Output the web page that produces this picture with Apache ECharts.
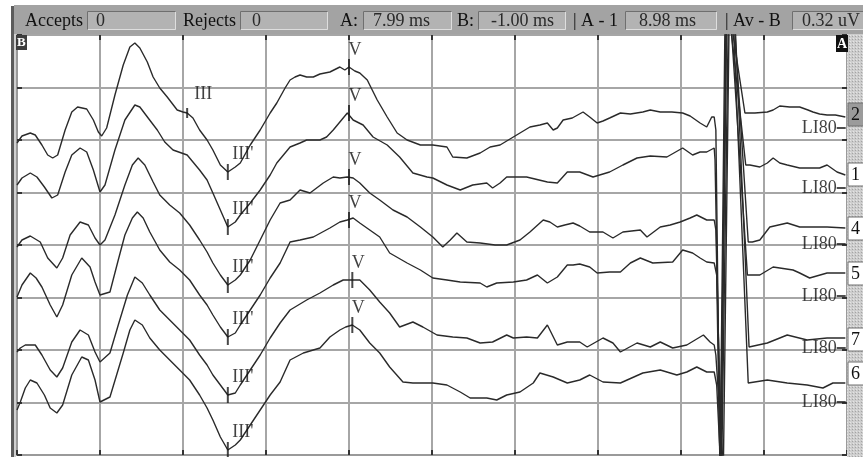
<!DOCTYPE html>
<html>
<head>
<meta charset="utf-8">
<script src="https://cdn.jsdelivr.net/npm/echarts/dist/echarts.min.js"></script>
<style>
  html, body { margin: 0; padding: 0; background: #ffffff; }
  #chart { width: 863px; height: 457px; }
</style>
</head>
<body>
<div id="chart"></div>
<script>
// Averaged evoked-response sweeps: time in ms, amplitude in uV (stacked display level)
const trace1 = [[-1.00,3.12],[-0.94,3.19],[-0.84,3.22],[-0.78,3.20],[-0.70,3.10],[-0.63,3.00],[-0.57,2.97],[-0.51,3.00],[-0.42,3.25],[-0.34,3.43],[-0.27,3.48],[-0.16,3.46],[-0.08,3.35],[-0.02,3.23],[0.02,3.19],[0.08,3.27],[0.18,3.60],[0.28,3.90],[0.36,4.08],[0.42,4.12],[0.48,4.07],[0.57,3.93],[0.64,3.78],[0.72,3.67],[0.81,3.58],[0.93,3.45],[1.00,3.43],[1.05,3.42],[1.12,3.37],[1.20,3.25],[1.29,3.15],[1.36,3.05],[1.45,2.90],[1.54,2.83],[1.63,2.88],[1.69,2.92],[1.81,3.10],[1.93,3.25],[2.05,3.42],[2.13,3.52],[2.23,3.67],[2.29,3.75],[2.35,3.78],[2.41,3.80],[2.49,3.78],[2.57,3.78],[2.65,3.81],[2.77,3.83],[2.89,3.88],[2.95,3.85],[3.00,3.88],[3.07,3.84],[3.13,3.82],[3.22,3.75],[3.28,3.65],[3.34,3.55],[3.46,3.38],[3.58,3.22],[3.70,3.15],[3.86,3.10],[4.01,3.10],[4.18,3.08],[4.25,2.98],[4.42,2.97],[4.58,3.02],[4.70,3.08],[4.82,3.10],[4.98,3.18],[5.18,3.28],[5.30,3.30],[5.39,3.32],[5.46,3.25],[5.51,3.27],[5.58,3.35],[5.69,3.37],[5.82,3.43],[5.90,3.38],[5.99,3.32],[6.06,3.34],[6.14,3.37],[6.27,3.42],[6.39,3.41],[6.54,3.43],[6.63,3.45],[6.75,3.43],[6.89,3.43],[7.02,3.42],[7.11,3.39],[7.23,3.32],[7.31,3.28],[7.37,3.38],[7.40,3.38],[7.42,3.25],[7.47,-0.15],[7.55,4.35],[7.60,4.35],[7.77,3.42],[7.89,3.42],[8.04,3.43],[8.11,3.45],[8.19,3.49],[8.31,3.48],[8.43,3.48],[8.53,3.45],[8.59,3.43],[8.67,3.41],[8.76,3.40],[8.86,3.40],[8.98,3.38]];
const trace2 = [[-1.00,2.70],[-0.94,2.77],[-0.84,2.82],[-0.76,2.78],[-0.67,2.68],[-0.58,2.57],[-0.51,2.60],[-0.42,2.83],[-0.34,3.00],[-0.24,3.07],[-0.16,3.03],[-0.08,2.85],[0.00,2.63],[0.06,2.70],[0.18,3.05],[0.30,3.35],[0.42,3.50],[0.48,3.48],[0.58,3.37],[0.69,3.25],[0.78,3.13],[0.88,3.05],[1.05,3.00],[1.20,2.85],[1.29,2.75],[1.36,2.62],[1.45,2.45],[1.54,2.28],[1.63,2.33],[1.69,2.40],[1.81,2.52],[1.93,2.65],[2.05,2.80],[2.13,2.92],[2.29,3.08],[2.41,3.12],[2.49,3.15],[2.65,3.15],[2.73,3.18],[2.81,3.25],[2.89,3.33],[2.98,3.42],[3.05,3.35],[3.17,3.30],[3.29,3.18],[3.46,3.10],[3.61,2.98],[3.77,2.82],[3.94,2.78],[4.01,2.77],[4.18,2.70],[4.34,2.65],[4.49,2.70],[4.66,2.72],[4.73,2.67],[4.82,2.72],[4.90,2.78],[5.14,2.78],[5.39,2.73],[5.51,2.72],[5.63,2.83],[5.78,2.83],[5.94,2.78],[6.14,2.83],[6.30,2.90],[6.47,2.97],[6.63,2.99],[6.83,2.98],[7.02,3.07],[7.14,3.00],[7.23,3.03],[7.31,3.03],[7.40,3.07],[7.41,2.95],[7.48,-0.15],[7.54,4.35],[7.59,4.35],[7.78,2.90],[7.83,2.90],[7.95,2.88],[8.04,2.92],[8.11,2.97],[8.19,2.92],[8.28,2.90],[8.43,2.87],[8.55,2.87],[8.67,2.87],[8.76,2.90],[8.88,2.83],[8.98,2.80]];
const trace3 = [[-1.00,2.08],[-0.94,2.15],[-0.84,2.19],[-0.72,2.13],[-0.63,1.97],[-0.52,1.87],[-0.45,1.97],[-0.36,2.20],[-0.24,2.33],[-0.14,2.30],[-0.06,2.17],[0.00,2.10],[0.06,2.15],[0.18,2.40],[0.30,2.70],[0.39,2.90],[0.46,2.97],[0.54,2.90],[0.64,2.73],[0.72,2.60],[0.84,2.50],[0.96,2.42],[1.08,2.30],[1.20,2.15],[1.29,2.03],[1.36,1.92],[1.45,1.80],[1.54,1.70],[1.63,1.75],[1.69,1.80],[1.81,1.95],[1.93,2.15],[2.05,2.35],[2.17,2.52],[2.29,2.55],[2.41,2.65],[2.53,2.62],[2.69,2.72],[2.81,2.78],[2.89,2.77],[2.98,2.78],[3.05,2.77],[3.13,2.72],[3.25,2.62],[3.37,2.55],[3.53,2.45],[3.70,2.38],[3.86,2.28],[4.01,2.18],[4.13,2.08],[4.22,2.15],[4.30,2.22],[4.42,2.13],[4.58,2.12],[4.76,2.10],[4.90,2.10],[5.06,2.15],[5.18,2.23],[5.34,2.35],[5.42,2.33],[5.51,2.28],[5.60,2.30],[5.70,2.32],[5.78,2.29],[5.90,2.23],[6.06,2.23],[6.18,2.17],[6.30,2.23],[6.51,2.25],[6.59,2.18],[6.75,2.28],[6.87,2.30],[6.99,2.33],[7.11,2.37],[7.19,2.40],[7.31,2.35],[7.40,2.35],[7.42,2.25],[7.49,-0.15],[7.57,4.35],[7.64,4.35],[7.81,2.13],[7.86,2.13],[7.95,2.15],[8.07,2.28],[8.28,2.32],[8.43,2.28],[8.61,2.28],[8.76,2.28],[8.98,2.27]];
const trace4 = [[-1.00,1.58],[-0.94,1.70],[-0.84,1.82],[-0.77,1.77],[-0.70,1.68],[-0.60,1.50],[-0.52,1.38],[-0.45,1.50],[-0.34,1.80],[-0.22,1.97],[-0.12,1.88],[-0.06,1.73],[0.00,1.60],[0.12,1.63],[0.22,1.95],[0.30,2.20],[0.39,2.37],[0.45,2.43],[0.52,2.37],[0.60,2.23],[0.72,2.05],[0.84,1.93],[0.96,1.85],[1.08,1.75],[1.20,1.60],[1.29,1.50],[1.36,1.40],[1.45,1.28],[1.54,1.18],[1.63,1.22],[1.69,1.30],[1.81,1.45],[1.93,1.60],[2.05,1.77],[2.17,1.92],[2.29,2.13],[2.41,2.15],[2.57,2.18],[2.77,2.27],[2.89,2.33],[2.98,2.35],[3.05,2.37],[3.13,2.32],[3.25,2.25],[3.37,2.18],[3.49,2.02],[3.70,1.92],[3.86,1.85],[4.01,1.77],[4.18,1.75],[4.34,1.73],[4.58,1.72],[4.66,1.68],[4.78,1.72],[4.98,1.73],[5.14,1.75],[5.27,1.80],[5.39,1.72],[5.51,1.78],[5.63,1.90],[5.70,1.90],[5.78,1.91],[5.90,1.88],[5.99,1.82],[6.14,1.83],[6.27,1.83],[6.39,1.92],[6.51,1.97],[6.66,1.92],[6.90,1.93],[7.02,2.05],[7.14,2.02],[7.23,1.97],[7.31,1.93],[7.40,1.92],[7.43,1.80],[7.47,-0.15],[7.53,4.35],[7.60,4.35],[7.80,1.80],[7.83,1.80],[7.95,1.80],[8.11,1.88],[8.35,1.85],[8.43,1.82],[8.55,1.77],[8.76,1.82],[8.98,1.82]];
const trace5 = [[-1.00,1.03],[-0.96,1.07],[-0.90,1.10],[-0.78,1.10],[-0.70,1.00],[-0.60,0.85],[-0.52,0.78],[-0.45,0.87],[-0.34,1.13],[-0.24,1.25],[-0.14,1.20],[-0.06,1.03],[0.00,0.93],[0.12,1.02],[0.22,1.30],[0.33,1.60],[0.42,1.78],[0.51,1.72],[0.60,1.60],[0.72,1.45],[0.84,1.35],[0.96,1.25],[1.08,1.15],[1.20,1.00],[1.29,0.90],[1.36,0.80],[1.45,0.70],[1.54,0.60],[1.63,0.62],[1.69,0.70],[1.81,0.85],[1.93,1.00],[2.05,1.17],[2.17,1.32],[2.29,1.45],[2.49,1.55],[2.65,1.62],[2.81,1.70],[2.93,1.75],[3.04,1.75],[3.13,1.75],[3.25,1.65],[3.37,1.53],[3.49,1.42],[3.61,1.28],[3.77,1.33],[3.89,1.28],[4.06,1.20],[4.25,1.18],[4.42,1.17],[4.58,1.12],[4.73,1.13],[4.90,1.20],[4.98,1.17],[5.14,1.18],[5.27,1.17],[5.39,1.30],[5.51,1.10],[5.63,1.13],[5.78,1.13],[5.87,1.08],[6.06,1.17],[6.18,1.12],[6.27,1.03],[6.47,1.12],[6.63,1.08],[6.75,1.13],[6.90,1.07],[7.07,1.10],[7.17,1.15],[7.27,1.20],[7.35,1.13],[7.40,1.10],[7.42,1.00],[7.51,-0.15],[7.58,4.35],[7.65,4.35],[7.82,1.08],[8.04,1.12],[8.28,1.20],[8.52,1.15],[8.76,1.17],[8.98,1.17]];
const trace6 = [[-1.00,0.45],[-0.96,0.53],[-0.90,0.67],[-0.84,0.75],[-0.76,0.72],[-0.67,0.60],[-0.60,0.47],[-0.52,0.42],[-0.45,0.50],[-0.34,0.80],[-0.22,0.98],[-0.14,0.95],[-0.06,0.75],[0.00,0.53],[0.12,0.58],[0.20,0.80],[0.28,1.02],[0.36,1.25],[0.42,1.35],[0.51,1.30],[0.60,1.17],[0.72,1.05],[0.84,0.95],[0.96,0.85],[1.08,0.75],[1.20,0.60],[1.29,0.47],[1.36,0.35],[1.45,0.18],[1.54,0.05],[1.63,0.10],[1.69,0.15],[1.81,0.30],[1.93,0.45],[2.05,0.60],[2.17,0.73],[2.29,0.95],[2.45,1.02],[2.65,1.07],[2.77,1.18],[2.89,1.25],[2.96,1.28],[3.04,1.30],[3.13,1.25],[3.25,1.12],[3.37,1.02],[3.49,0.88],[3.65,0.73],[3.77,0.72],[4.01,0.72],[4.18,0.70],[4.34,0.63],[4.46,0.57],[4.66,0.57],[4.78,0.55],[4.90,0.60],[5.06,0.63],[5.22,0.72],[5.30,0.82],[5.46,0.78],[5.63,0.72],[5.78,0.75],[5.90,0.80],[6.06,0.73],[6.27,0.72],[6.54,0.82],[6.75,0.85],[6.95,0.80],[7.07,0.83],[7.19,0.88],[7.31,0.83],[7.40,0.83],[7.43,0.70],[7.48,-0.15],[7.55,4.35],[7.63,4.35],[7.81,0.72],[8.04,0.75],[8.28,0.72],[8.52,0.70],[8.71,0.67],[8.83,0.72],[8.98,0.72]];

// Picked wave latencies and amplitudes
const waveV = [[3.00,3.88],[3.00,3.42],[3.00,2.78],[3.00,2.35],[3.04,1.75],[3.04,1.30]];
const waveIIIprime = [[1.54,2.83],[1.54,2.28],[1.54,1.70],[1.54,1.18],[1.54,0.60],[1.54,0.05]];
const waveIII = [[1.05,3.42]];

// Sweep baselines and their tags
const baselineLevels = [3.27, 2.67, 2.11, 1.59, 1.07, 0.53];
const baselineTag = 'LI80';
const channelNumbers = ['2', '1', '4', '5', '7', '6'];

// Status bar fields
const statusLabels = ['Accepts', 'Rejects', 'A:', 'B:', '| A - 1', '| Av - B'];
const statusValues = ['0', '0', '7.99 ms', '-1.00 ms', '8.98 ms', '0.32 uV'];

const SERIF = '"Liberation Serif", "DejaVu Serif", serif';
const chart = echarts.init(document.getElementById('chart'), null, { renderer: 'canvas' });

// dotted texture for the channel strip
const dots = document.createElement('canvas');
dots.width = 3; dots.height = 3;
const dc = dots.getContext('2d');
dc.fillStyle = '#cdcdcd'; dc.fillRect(0, 0, 3, 3);
dc.fillStyle = '#a4a4a4'; dc.fillRect(0, 0, 1, 1);
dc.fillStyle = '#e4e4e4'; dc.fillRect(1, 2, 1, 1);

// status bar layout (pixels): label x, box x0, box x1, value x
const statusLayout = [
  { lx: 25,  b0: 87,  b1: 176, vx: 96 },
  { lx: 183, b0: 240, b1: 328, vx: 252 },
  { lx: 340, b0: 363, b1: 452, vx: 373 },
  { lx: 457, b0: 478, b1: 566, vx: 491 },
  { lx: 573, b0: 625, b1: 717, vx: 639 },
  { lx: 725, b0: 792, b1: 875, vx: 802 }
];

const graphics = [];
// outer frame line on the left
graphics.push({ type: 'rect', shape: { x: 11, y: 6, width: 3, height: 451 }, style: { fill: '#5c5c5c' }, z: 10 });
graphics.push({ type: 'rect', shape: { x: 14, y: 33, width: 2, height: 424 }, style: { fill: '#d0d0d0' }, z: 10 });
// status bar
graphics.push({ type: 'rect', shape: { x: 14, y: 5, width: 849, height: 29 }, style: { fill: '#a3a3a3' }, z: 10 });
statusLabels.forEach((lab, i) => {
  const L = statusLayout[i];
  graphics.push({ type: 'rect', shape: { x: L.b0, y: 11, width: L.b1 - L.b0, height: 19 }, style: { fill: '#b3b3b3' }, z: 11 });
  graphics.push({ type: 'polyline', shape: { points: [[L.b0 + 0.5, 29.5], [L.b0 + 0.5, 11.5], [L.b1 - 0.5, 11.5]] }, style: { stroke: '#6f6f6f', lineWidth: 1, fill: null }, z: 12 });
  graphics.push({ type: 'polyline', shape: { points: [[L.b0 + 1, 29.5], [L.b1 - 0.5, 29.5], [L.b1 - 0.5, 12]] }, style: { stroke: '#dedede', lineWidth: 1, fill: null }, z: 12 });
  graphics.push({ type: 'text', x: L.lx, y: 21, style: { text: lab, font: '18px ' + SERIF, fill: '#111', verticalAlign: 'middle' }, z: 13 });
  graphics.push({ type: 'text', x: L.vx, y: 21, style: { text: statusValues[i], font: '18px ' + SERIF, fill: '#2a2a2a', verticalAlign: 'middle' }, z: 13 });
});
// channel strip on the right
graphics.push({ type: 'rect', shape: { x: 847, y: 34, width: 16, height: 423 }, style: { fill: { image: dots, repeat: 'repeat' } }, z: 10 });
const chipTops = [103, 163, 217, 262, 328, 362];
channelNumbers.forEach((n, i) => {
  const y0 = chipTops[i];
  graphics.push({ type: 'rect', shape: { x: 848, y: y0, width: 20, height: 23 }, style: { fill: i === 0 ? '#9b9b9b' : '#ffffff', stroke: '#707070', lineWidth: 1 }, z: 11 });
  graphics.push({ type: 'text', x: 851, y: y0 + 12, style: { text: n, font: '18px ' + SERIF, fill: '#111', verticalAlign: 'middle' }, z: 12 });
});
// cursor tags
graphics.push({ type: 'rect', shape: { x: 16, y: 35, width: 11, height: 15 }, style: { fill: '#3d3d3d' }, z: 12 });
graphics.push({ type: 'text', x: 17, y: 43, style: { text: 'B', font: 'bold 13px ' + SERIF, fill: '#fff', verticalAlign: 'middle' }, z: 13 });
graphics.push({ type: 'rect', shape: { x: 836, y: 35, width: 12, height: 17 }, style: { fill: '#111' }, z: 12 });
graphics.push({ type: 'text', x: 837, y: 44, style: { text: 'A', font: 'bold 14px ' + SERIF, fill: '#fff', verticalAlign: 'middle' }, z: 13 });

const traces = [trace1, trace2, trace3, trace4, trace5, trace6];
const series = traces.map((d, i) => ({
  type: 'line',
  name: 'ch' + channelNumbers[i],
  data: d,
  showSymbol: false,
  symbol: 'none',
  clip: true,
  lineStyle: { color: '#2a2a2a', width: 1.4 },
  z: 3,
  animation: false
}));

const labelFont = { fontFamily: SERIF, fontSize: 18, color: '#111' };
series.push({
  type: 'scatter', data: waveV, symbol: 'rect', symbolSize: [2, 16],
  itemStyle: { color: '#1a1a1a' }, z: 5, animation: false,
  label: Object.assign({ show: true, formatter: 'V', position: 'inside', offset: [6, -17] }, labelFont)
});
series.push({
  type: 'scatter', data: waveIIIprime, symbol: 'rect', symbolSize: [2, 16],
  itemStyle: { color: '#1a1a1a' }, z: 5, animation: false,
  label: Object.assign({ show: true, formatter: "III'", position: 'inside', offset: [15, -18] }, labelFont)
});
series.push({
  type: 'scatter', data: waveIII, symbol: 'rect', symbolSize: [2, 10],
  itemStyle: { color: '#1a1a1a' }, z: 5, animation: false,
  label: Object.assign({ show: true, formatter: 'III', position: 'inside', offset: [16, -19] }, labelFont)
});
series.push({
  type: 'scatter', data: baselineLevels.map(v => [8.93, v]), symbol: 'rect', symbolSize: [9, 2],
  itemStyle: { color: '#222' }, z: 5, animation: false,
  label: Object.assign({ show: true, formatter: baselineTag, position: 'left', distance: 0 }, labelFont)
});

const gridColor = '#a6a6a6';
const tickStyle = { show: true, inside: true, length: 5, lineStyle: { color: '#333', width: 2 } };
const xBase = { type: 'value', min: -1, max: 9, interval: 1, axisLabel: { show: false } };
const yBase = { type: 'value', min: 0, max: 4.2, interval: 0.525, axisLabel: { show: false } };
const frameLine = { show: true, onZero: false, lineStyle: { color: '#9a9a9a', width: 2 } };

chart.setOption({
  animation: false,
  backgroundColor: '#ffffff',
  grid: { left: 17, top: 35, width: 830, height: 420, show: false },
  xAxis: [
    Object.assign({}, xBase, { position: 'bottom', axisLine: frameLine, axisTick: tickStyle, splitLine: { show: true, lineStyle: { color: gridColor, width: 2 } } }),
    Object.assign({}, xBase, { position: 'top', axisLine: { show: false, onZero: false }, axisTick: tickStyle, splitLine: { show: false } })
  ],
  yAxis: [
    Object.assign({}, yBase, { position: 'left', axisLine: frameLine, axisTick: tickStyle, splitLine: { show: true, lineStyle: { color: gridColor, width: 2 } } }),
    Object.assign({}, yBase, { position: 'right', axisLine: frameLine, axisTick: tickStyle, splitLine: { show: false } })
  ],
  series: series,
  graphic: graphics
});
</script>
</body>
</html>
